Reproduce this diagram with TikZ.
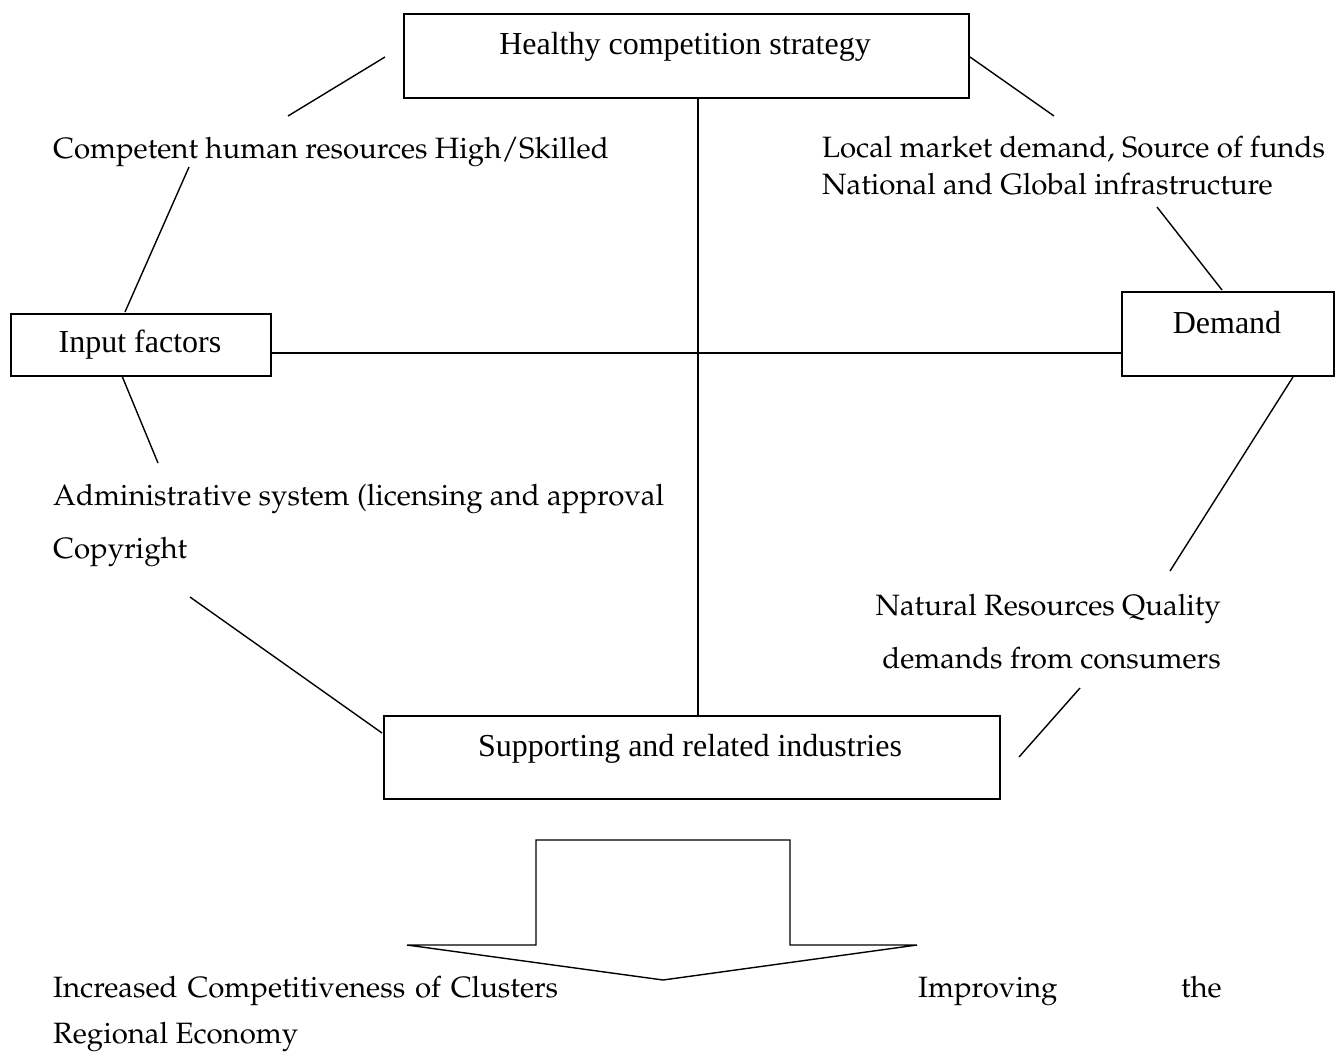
\documentclass[tikz,border=0pt]{standalone}
\usepackage[T1]{fontenc}
\usepackage{fontspec}
\setmainfont{Liberation Serif}
\newcommand\palfont{\fontencoding{T1}\fontfamily{ppl}\selectfont}
\begin{document}
\begin{tikzpicture}[x=1pt,y=-1pt,
  box/.style={draw,line width=1.6pt,inner sep=0pt,anchor=north west},
  ln/.style={line width=1.4pt},
  tnr/.style={font=\fontsize{32}{38}\selectfont,inner sep=0pt,anchor=base},
  pal/.style={font=\palfont\fontsize{29.4}{35}\selectfont,inner sep=0pt,anchor=base west}]
\useasboundingbox[fill=white] (0,0) rectangle (1341,1057);
% boxes
\node[box,minimum width=565,minimum height=84] (top) at (403,13) {};
\node[box,minimum width=260,minimum height=62] (input) at (10,313) {};
\node[box,minimum width=212,minimum height=84] (demand) at (1121,291) {};
\node[box,minimum width=616,minimum height=83] (sup) at (383,715) {};
% box texts
\node[tnr] (toptext) at (685,55) {Healthy competition strategy};
\node[tnr] (inputtext) at (140,352) {Input factors};
\node[tnr] (demandtext) at (1227,333) {Demand};
\node[tnr] (suptext) at (690,756) {Supporting and related industries};
% free texts
\node[pal] (hr) at (53,158) {Competent human resources High/Skilled};
\node[pal] (lm1) at (822,157) {Local market demand, Source of funds};
\node[pal] (lm2) at (822,194) {National and Global infrastructure};
\node[pal] (adm1) at (53,505) {Administrative system (licensing and approval};
\node[pal] (adm2) at (53,558) {Copyright};
\node[pal,anchor=base east] (nr1) at (1221,615) {Natural Resources Quality};
\node[pal,anchor=base east] (nr2) at (1221,668) {demands from consumers};
\node[pal] (inc) at (53,997) {\makebox[505pt][s]{Increased Competitiveness of Clusters}};
\node[pal] (imp) at (918,997) {Improving};
\node[pal,anchor=base east] (the) at (1222,997) {the};
\node[pal] (reg) at (53,1043) {Regional Economy};
% coordinates for free line ends
\coordinate (vx) at (698,0);
\coordinate (hy) at (0,353);
\coordinate (a1) at (385,57);   \coordinate (a2) at (288,116);
\coordinate (b1) at (970,57);   \coordinate (b2) at (1054,116);
\coordinate (c1) at (189,167);  \coordinate (c2) at (125,312);
\coordinate (d1) at (122,376);  \coordinate (d2) at (158,463);
\coordinate (e1) at (190,597);  \coordinate (e2) at (382,733);
\coordinate (f1) at (1157,207); \coordinate (f2) at (1222,290);
\coordinate (g1) at (1293,377); \coordinate (g2) at (1170,571);
\coordinate (h1) at (1080,688); \coordinate (h2) at (1019,757);
% connectors
\draw[ln] (top.south -| vx) -- (sup.north -| vx);
\draw[ln] (input.east |- hy) -- (demand.west |- hy);
\draw[ln] (a1) -- (a2);
\draw[ln] (b1) -- (b2);
\draw[ln] (c1) -- (c2);
\draw[ln] (d1) -- (d2);
\draw[ln] (e1) -- (e2);
\draw[ln] (f1) -- (f2);
\draw[ln] (g1) -- (g2);
\draw[ln] (h1) -- (h2);
% block arrow
\draw[ln,line join=miter] (536,945) -- (536,840) -- (790,840) -- (790,945) -- (917,945) -- (663,980) -- (407,945) -- cycle;
\end{tikzpicture}
\end{document}
